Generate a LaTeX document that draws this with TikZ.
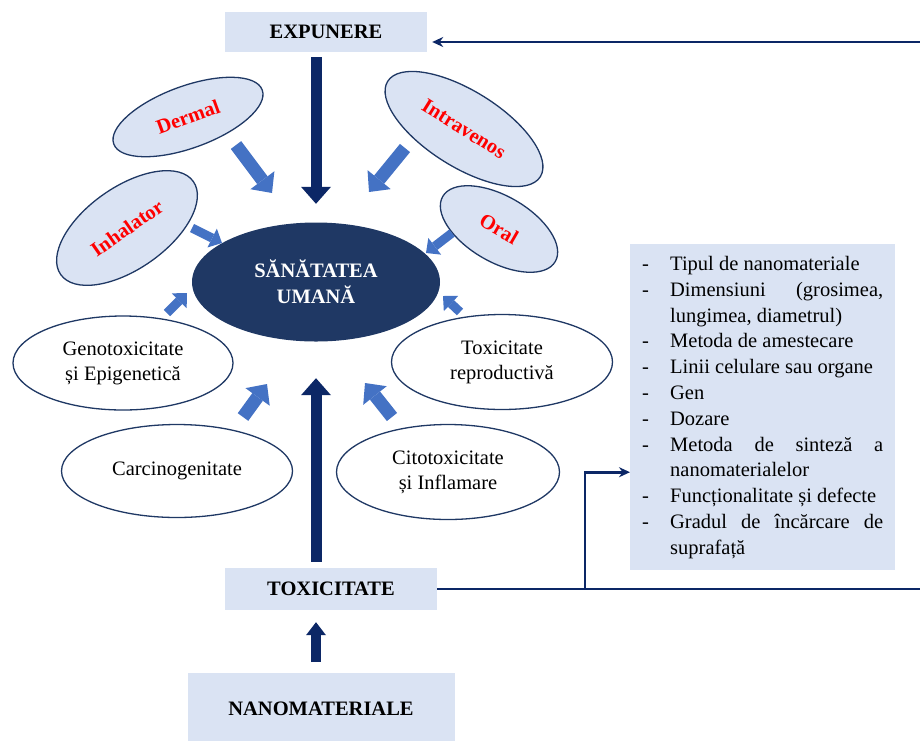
\documentclass[tikz,border=0pt]{standalone}
\usepackage{fontspec}
\setmainfont{Liberation Serif}
\usepackage{tikz}
\usetikzlibrary{positioning,arrows.meta,shapes.geometric,calc}
\definecolor{lav}{HTML}{DAE3F3}
\definecolor{deepblue}{HTML}{1F3864}
\definecolor{darknavy}{HTML}{0C2766}
\definecolor{arrblue}{HTML}{4472C4}

\begin{document}
\begin{tikzpicture}[x=1pt,y=-1pt,font=\fontsize{20.5}{25.8}\selectfont,
  bx/.style={fill=lav,inner sep=0pt,font=\fontsize{20.5}{25.8}\selectfont\bfseries},
  route/.style={ellipse,draw=deepblue,line width=1.3pt,fill=lav,inner sep=0pt,text=red,font=\fontsize{20.5}{25.8}\selectfont\bfseries},
  ef/.style={ellipse,draw=deepblue,line width=1.3pt,fill=white,inner sep=0pt,align=center,font=\fontsize{20.5}{25}\selectfont},
  blk/.style={arrblue,line width=13pt,-{Triangle[length=16pt,width=30pt,line width=0pt]}},
  blks/.style={arrblue,line width=9pt,-{Triangle[length=11pt,width=21pt,line width=0pt]}},
  nav/.style={darknavy,line width=11pt,-{Triangle[length=17pt,width=30pt,line width=0pt]}},
  navs/.style={darknavy,line width=10pt,-{Triangle[length=13pt,width=20pt,line width=0pt]}},
  fb/.style={darknavy,line width=2.6pt}]
  \useasboundingbox (0,0) rectangle (920,740);
  \node[bx,minimum width=202pt,minimum height=40pt](exp) at (326,32){EXPUNERE};
  \node[ellipse,fill=deepblue,text=white,minimum width=248pt,minimum height=119pt,inner sep=0pt,align=center,
    font=\fontsize{20.5}{26}\selectfont\bfseries](san) at (316,282){SĂNĂTATEA\\UMANĂ};
  \node[route,minimum width=158pt,minimum height=62pt,rotate=20](derm) at (188,117){Dermal};
  \node[route,minimum width=162pt,minimum height=82pt,rotate=35](inh) at (127,228){Inhalator};
  \node[route,minimum width=180pt,minimum height=76pt,rotate=-32](intra) at (464,129){Intravenos};
  \node[route,minimum width=130pt,minimum height=66pt,rotate=-30](oral) at (499,229){Oral};
  \node[ef,minimum width=220pt,minimum height=94pt](geno) at (123,363){Genotoxicitate\\și Epigenetică};
  \node[ef,minimum width=231pt,minimum height=93pt](carc) at (177,471){Carcinogenitate};
  \node[ef,minimum width=221pt,minimum height=95pt](repro) at (502,362){Toxicitate\\reproductivă};
  \node[ef,minimum width=223pt,minimum height=95pt](cito) at (448,472){Citotoxicitate\\și Inflamare};
  \node[bx,minimum width=212pt,minimum height=42pt](tox) at (331,589){TOXICITATE};
  \node[bx,minimum width=267pt,minimum height=70pt,below=63pt of tox,xshift=-10pt](nano){NANOMATERIALE};
  \node[fill=lav,inner xsep=12pt,inner ysep=8pt,minimum height=326pt,anchor=north west](list) at (630,244){%
    \begin{tabular}{@{}p{28pt}@{}p{213pt}@{}}
    - & Tipul de nanomateriale\\
    - & \makebox[213pt][s]{Dimensiuni (grosimea,}\\
      & lungimea, diametrul)\\
    - & Metoda de amestecare\\
    - & Linii celulare sau organe\\
    - & Gen\\
    - & Dozare\\
    - & \makebox[213pt][s]{Metoda de sinteză a}\\
      & nanomaterialelor\\
    - & Funcționalitate și defecte\\
    - & \makebox[213pt][s]{Gradul de încărcare de}\\
      & suprafață
    \end{tabular}};
  % block arrows towards the centre
  \coordinate(d1) at (236,145); \coordinate(d2) at (272,193);
  \coordinate(i1) at (405,148); \coordinate(i2) at (369,192);
  \coordinate(h1) at (192,228); \coordinate(h2) at (222,243);
  \coordinate(o1) at (452,233); \coordinate(o2) at (426,253);
  \coordinate(g1) at (167,313); \coordinate(g2) at (187,293);
  \coordinate(r1) at (460,312); \coordinate(r2) at (443,296);
  \coordinate(c1) at (243,417); \coordinate(c2) at (267,384);
  \coordinate(t1) at (392,417); \coordinate(t2) at (365,383);
  \draw[blk](d1)--(d2); \draw[blk](i1)--(i2); \draw[blk](c1)--(c2); \draw[blk](t1)--(t2);
  \draw[blks](h1)--(h2); \draw[blks](o1)--(o2); \draw[blks](g1)--(g2); \draw[blks](r1)--(r2);
  \draw[nav,shorten <=5pt,shorten >=18.5pt](exp.south -| san.north)--(san.north);
  \draw[nav,shorten <=6pt,shorten >=36.5pt](tox.north -| san.south)--(san.south);
  \draw[navs,shorten <=11pt,shorten >=12pt](nano.north -| san.south)--(tox.south -| san.south);
  % feedback lines
  \coordinate(rt) at (920,42); \coordinate(rb) at (920,589); \coordinate(br) at (585,589);
  \draw[fb,-{Stealth[length=11pt,width=10pt]},shorten >=5pt](rt)--(rt -| exp.east);
  \draw[fb](tox.east)--(rb);
  \draw[fb,-{Stealth[length=11pt,width=10pt]}](br)|-([yshift=-65pt]list.west);
\end{tikzpicture}
\end{document}
